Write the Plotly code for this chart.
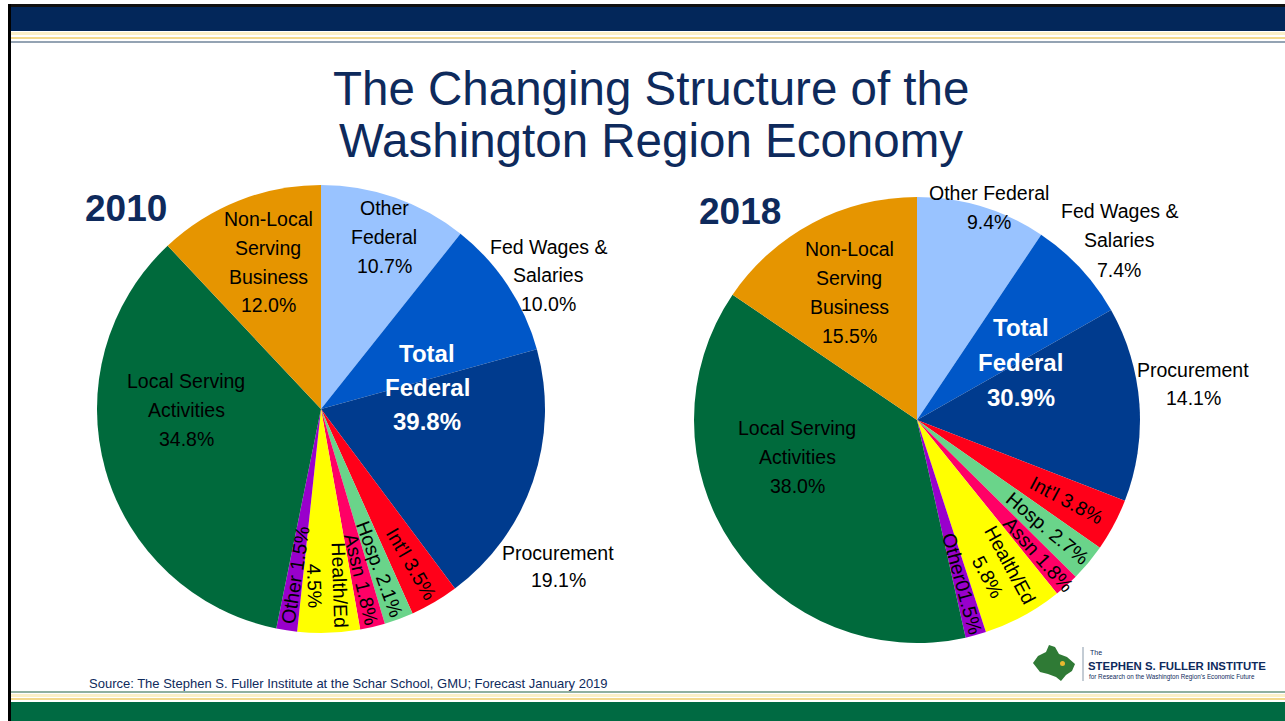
import math
import plotly.graph_objects as go

W, H = 1285, 721

# ---------------- data ----------------
categories = ["Other Federal", "Fed Wages & Salaries", "Procurement", "Int'l", "Hosp.",
              "Assn", "Health/Ed", "Other", "Local Serving Activities", "Non-Local Serving Business"]
values_2010 = [10.7, 10.0, 19.1, 3.5, 2.1, 1.8, 4.5, 1.5, 34.8, 12.0]
values_2018 = [9.4, 7.4, 14.1, 3.8, 2.7, 1.8, 5.8, 1.5, 38.0, 15.5]
total_federal_2010 = 39.8
total_federal_2018 = 30.9
slice_colors = ["#99C3FF", "#0057C8", "#003B8E", "#FF0019", "#6AD48A",
                "#FF0066", "#FFFF00", "#9900CC", "#006A3C", "#E69500"]

# labels for the small (radial) slices
small_labels_2010 = {3: "Int'l 3.5%", 4: "Hosp. 2.1%", 5: "Assn 1.8%", 6: "Health/Ed<br>4.5%", 7: "Other 1.5%"}
small_labels_2018 = {3: "Int'l 3.8%", 4: "Hosp. 2.7%", 5: "Assn 1.8%", 6: "Health/Ed<br>5.8%", 7: "Other01.5%"}

# ---------------- layout constants ----------------
NAVY = "#0E2A5C"
FONT = "Liberation Sans, Arial, sans-serif"
pie1 = dict(cx=321, cy=409, r=224)
pie2 = dict(cx=917, cy=420, r=223)


def X(px):
    return px / W


def Y(py):
    return 1 - py / H


fig = go.Figure()


def add_pie(vals, geo):
    fig.add_trace(go.Pie(
        labels=categories, values=vals, sort=False, direction="clockwise", rotation=0,
        marker=dict(colors=slice_colors, line=dict(width=0)),
        textinfo="none", hoverinfo="label+percent", showlegend=False,
        domain=dict(x=[X(geo["cx"] - geo["r"]), X(geo["cx"] + geo["r"])],
                    y=[Y(geo["cy"] + geo["r"]), Y(geo["cy"] - geo["r"])]),
    ))


add_pie(values_2010, pie1)
add_pie(values_2018, pie2)

annotations = []


def text(px, py, s, size=19.5, color="black", bold=False, angle=0, family=FONT, xanchor="center"):
    if bold:
        s = "<b>" + s + "</b>"
    annotations.append(dict(x=X(px), y=Y(py), xref="paper", yref="paper", text=s,
                            showarrow=False, xanchor=xanchor, yanchor="middle", textangle=angle,
                            font=dict(family=family, size=size, color=color)))


def lines(px, ys, strs, **kw):
    for y, s in zip(ys, strs):
        text(px, y, s, **kw)


# title
text(651, 89, "The Changing Structure of the", size=47.5, color=NAVY)
text(651, 140, "Washington Region Economy", size=47.5, color=NAVY)
text(126, 208, "2010", size=37, color=NAVY, bold=True)
text(740, 211, "2018", size=37, color=NAVY, bold=True)

# 2010 large-slice labels
lines(384, [208, 237, 266], ["Other", "Federal", f"{values_2010[0]:.1f}%"])
lines(548, [247, 275, 304], ["Fed Wages &", "Salaries", f"{values_2010[1]:.1f}%"])
lines(427, [353, 387, 421], ["Total", "Federal", f"{total_federal_2010:.1f}%"], size=24, bold=True, color="white")
lines(558, [553, 580], ["Procurement", f"{values_2010[2]:.1f}%"])
lines(268, [219, 248, 277, 305], ["Non-Local", "Serving", "Business", f"{values_2010[9]:.1f}%"])
lines(186, [381, 410, 439], ["Local Serving", "Activities", f"{values_2010[8]:.1f}%"])

# 2018 large-slice labels
lines(989, [193, 222], ["Other Federal", f"{values_2018[0]:.1f}%"])
lines(1119, [211, 240, 270], ["Fed Wages &", "Salaries", f"{values_2018[1]:.1f}%"])
lines(1021, [327, 362, 397], ["Total", "Federal", f"{total_federal_2018:.1f}%"], size=24, bold=True, color="white")
lines(1193, [370, 398], ["Procurement", f"{values_2018[2]:.1f}%"])
lines(849, [249, 278, 307, 336], ["Non-Local", "Serving", "Business", f"{values_2018[9]:.1f}%"])
lines(797, [428, 457, 486], ["Local Serving", "Activities", f"{values_2018[8]:.1f}%"])


# radial labels for the small slices, placed from the slice angles
def radial_labels(vals, geo, labels, fracs, flip):
    total = sum(vals)
    cum = 0.0
    for i, v in enumerate(vals):
        mid = (cum + v / 2) / total * 360.0
        cum += v
        if i not in labels:
            continue
        rr = geo["r"] * fracs[i]
        px = geo["cx"] + rr * math.sin(math.radians(mid))
        py = geo["cy"] - rr * math.cos(math.radians(mid))
        ang = mid - 90
        if i in flip:
            ang -= 180
        text(px, py, labels[i], size=19.5, angle=ang)


radial_labels(values_2010, pie1, small_labels_2010,
              {3: 0.80, 4: 0.76, 5: 0.78, 6: 0.79, 7: 0.75}, flip={7})
radial_labels(values_2018, pie2, small_labels_2018,
              {3: 0.76, 4: 0.76, 5: 0.81, 6: 0.77, 7: 0.76}, flip=set())

# source + logo text
text(87, 683, "Source: The Stephen S. Fuller Institute at the Schar School, GMU; Forecast January 2019",
     size=13, color=NAVY, xanchor="left")
text(1088, 652, "The", size=7, color=NAVY, xanchor="left")
text(1086, 666, "<b>STEPHEN S. FULLER INSTITUTE</b>", size=11.4, color=NAVY, xanchor="left")
text(1087, 677, "for Research on the Washington Region's Economic Future", size=6.3, color=NAVY,
     xanchor="left")

# ---------------- decorative shapes ----------------
shapes = []


def rect(x0, y0, x1, y1, color):
    shapes.append(dict(type="rect", xref="paper", yref="paper", x0=X(x0), x1=X(x1), y0=Y(y1), y1=Y(y0),
                       fillcolor=color, line=dict(width=0), layer="below"))


rect(8, 4, W, 7, "#111111")
rect(8, 7, W, 31, "#03275A")
rect(8, 32, W, 35, "#FBF0C8")
rect(8, 37, W, 39, "#F2D98C")
rect(8, 41, W, 43, "#94A3B3")
rect(8, 4, 11, H, "#000000")
rect(11, 691, W, 693, "#8FB0A0")
rect(11, 694, W, 697, "#FBF0C8")
rect(11, 698, W, 700, "#F2D98C")
rect(11, 702, W, H, "#006A42")

# logo blob
pts = [(1033, 663), (1038, 656), (1046, 652), (1049, 645), (1055, 647), (1059, 654), (1067, 657),
       (1075, 664), (1072, 671), (1066, 675), (1061, 681), (1056, 677), (1048, 674), (1040, 672)]
path = "M " + " L ".join(f"{X(a):.5f},{Y(b):.5f}" for a, b in pts) + " Z"
shapes.append(dict(type="path", xref="paper", yref="paper", path=path, fillcolor="#2F7A35",
                   line=dict(width=0)))
shapes.append(dict(type="circle", xref="paper", yref="paper", x0=X(1060), x1=X(1065), y0=Y(666), y1=Y(661),
                   fillcolor="#E8B830", line=dict(width=0)))
shapes.append(dict(type="line", xref="paper", yref="paper", x0=X(1083), x1=X(1083), y0=Y(681), y1=Y(647),
                   line=dict(width=1, color="#8899AA")))

fig.update_layout(width=W, height=H, margin=dict(l=0, r=0, t=0, b=0),
                  paper_bgcolor="white", plot_bgcolor="white",
                  annotations=annotations, shapes=shapes)

fig.write_html("out.html", config={"displayModeBar": False},
               post_script="document.body.style.margin='0';document.body.style.overflow='hidden';")
